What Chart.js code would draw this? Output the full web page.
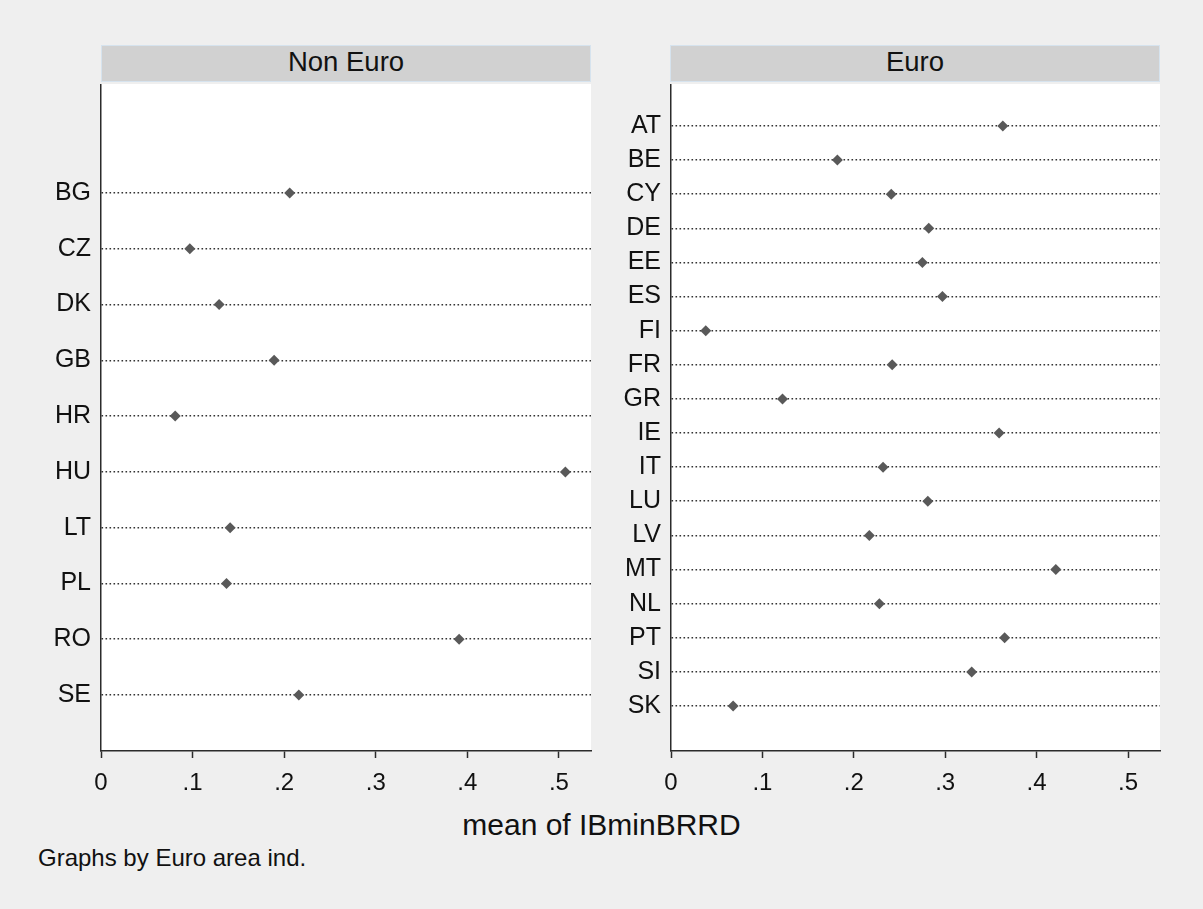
<!DOCTYPE html>
<html>
<head>
<meta charset="utf-8">
<script src="https://cdn.jsdelivr.net/npm/chart.js@4.4.1/dist/chart.umd.min.js"></script>
<style>
  html, body { margin:0; padding:0; background:#efefef; }
  body { width:1203px; height:909px; position:relative; overflow:hidden; font-family:"Liberation Sans", Arial, sans-serif; color:#111; }
  canvas { position:absolute; }
  .strip { position:absolute; top:45px; height:37px; box-sizing:border-box; border:1px solid #d6e3ee; background:#d1d1d1; }
  .strip span { position:absolute; left:0; right:0; top:2px; text-align:center; font-size:27.5px; line-height:1; }
  .txt { position:absolute; line-height:1; white-space:nowrap; }
</style>
</head>
<body>
<div class="strip" style="left:101px; width:490px;"><span>Non Euro</span></div>
<div class="strip" style="left:670px; width:490px;"><span>Euro</span></div>
<canvas id="c1" width="600" height="716" style="left:0; top:84px;"></canvas>
<canvas id="c2" width="600" height="716" style="left:600px; top:84px;"></canvas>
<div class="txt" style="top:810px; left:0; width:1203px; text-align:center; font-size:30px;">mean of IBminBRRD</div>
<div class="txt" style="top:846px; left:38px; font-size:24px;">Graphs by Euro area ind.</div>
<script>
// ---- data ----
const nonEuroCats = ['BG','CZ','DK','GB','HR','HU','LT','PL','RO','SE'];
const nonEuroVals = [0.206, 0.097, 0.129, 0.189, 0.081, 0.507, 0.141, 0.137, 0.391, 0.216];
const euroCats = ['AT','BE','CY','DE','EE','ES','FI','FR','GR','IE','IT','LU','LV','MT','NL','PT','SI','SK'];
const euroVals = [0.363, 0.182, 0.241, 0.282, 0.275, 0.297, 0.038, 0.242, 0.122, 0.359, 0.232, 0.281, 0.217, 0.421, 0.228, 0.365, 0.329, 0.068];
const xTickValues = [0, 0.1, 0.2, 0.3, 0.4, 0.5];
const xTickLabels = ['0', '.1', '.2', '.3', '.4', '.5'];
const xMax = 0.535;

const FONT = '"Liberation Sans", Arial, sans-serif';
const AXIS_COLOR = '#2b2b2b';

const plotBg = {
  id: 'plotBg',
  beforeDraw(chart) {
    const { ctx, chartArea: a } = chart;
    ctx.save();
    ctx.fillStyle = '#ffffff';
    ctx.fillRect(a.left, a.top, a.right - a.left, a.bottom - a.top);
    ctx.restore();
  }
};

function zeroPad(s) { s.paddingTop = 0; s.paddingBottom = 0; s.paddingLeft = 0; s.paddingRight = 0; }

function makePanel(id, cats, vals, yAxisWidth, padRight, padTopRows, padBottomRows) {
  const pts = cats.map((c, i) => ({ x: vals[i], y: i }));
  return new Chart(document.getElementById(id), {
    type: 'scatter',
    data: { datasets: [{
      data: pts,
      pointStyle: 'rectRot',
      pointRadius: 5.5,
      pointHoverRadius: 5.5,
      backgroundColor: '#595959',
      borderColor: '#595959',
      borderWidth: 0
    }]},
    plugins: [plotBg],
    options: {
      responsive: false,
      devicePixelRatio: 1,
      animation: false,
      events: [],
      layout: { autoPadding: false, padding: { top: 0, right: padRight, bottom: 0, left: 0 } },
      plugins: { legend: { display: false }, tooltip: { enabled: false } },
      scales: {
        x: {
          type: 'linear',
          min: 0, max: xMax,
          afterBuildTicks: s => { s.ticks = xTickValues.map(v => ({ value: v })); },
          afterFit: s => { s.height = 49; zeroPad(s); },
          ticks: {
            autoSkip: false, maxRotation: 0, padding: 11,
            color: '#111',
            font: { family: FONT, size: 24 },
            callback: (v, i) => xTickLabels[i]
          },
          grid: { drawOnChartArea: false, drawTicks: true, tickLength: 7, tickColor: AXIS_COLOR, tickWidth: 1.5 },
          border: { display: true, color: AXIS_COLOR, width: 1.5 }
        },
        y: {
          type: 'linear',
          reverse: true,
          min: -padTopRows, max: cats.length - 1 + padBottomRows,
          afterBuildTicks: s => { s.ticks = cats.map((c, i) => ({ value: i })); },
          afterFit: s => { s.width = yAxisWidth; zeroPad(s); },
          ticks: {
            autoSkip: false, padding: 10,
            color: '#111',
            font: { family: FONT, size: 25 },
            callback: (v, i) => cats[i]
          },
          grid: { drawOnChartArea: true, drawTicks: false, color: '#333333', lineWidth: 1.6 },
          border: { display: true, color: AXIS_COLOR, width: 1.5, dash: [1.6, 2.4] }
        }
      }
    }
  });
}

makePanel('c1', nonEuroCats, nonEuroVals, 101, 9, 1.954, 1.004);
makePanel('c2', euroCats, euroVals, 71, 40, 1.231, 1.319);
</script>
</body>
</html>
